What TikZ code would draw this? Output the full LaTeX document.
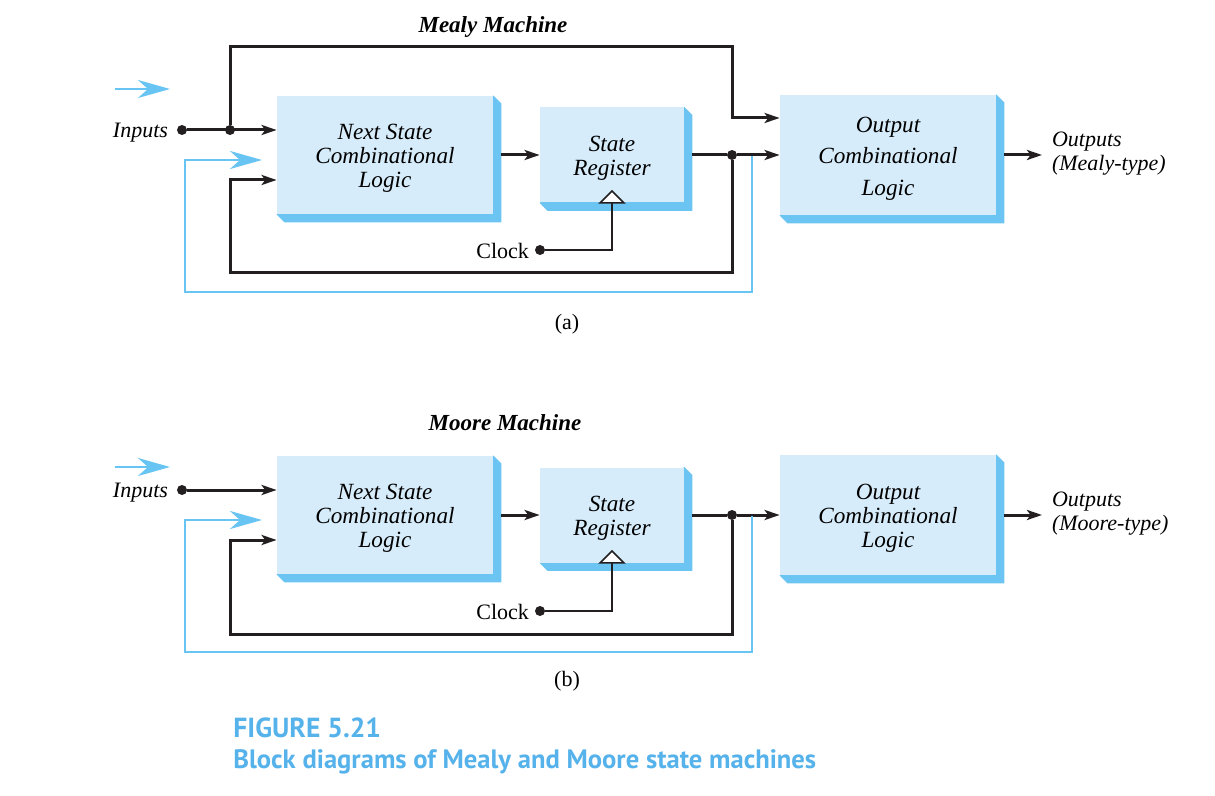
\documentclass[tikz,border=0pt]{standalone}
\usepackage{fontspec}
\setmainfont{Liberation Serif}
\setsansfont{PT Sans}
\usetikzlibrary{arrows.meta, backgrounds, positioning}
\definecolor{boxfill}{RGB}{214, 236, 250}
\definecolor{boxshade}{RGB}{108, 196, 242}
\definecolor{ink}{RGB}{35, 31, 32}
\definecolor{feedblue}{RGB}{104, 196, 242}
\definecolor{capblue}{RGB}{86, 178, 234}

\tikzset{
  block/.style={fill=boxfill, inner sep=0pt},
  btext/.style={align=center, yshift=-1.75pt,
                font=\itshape\fontsize{11.6}{12}\selectfont},
  link/.style={ink, line width=1.5pt, -{Stealth[length=7.5pt, width=5pt, inset=1.8pt]}},
  bluelink/.style={feedblue, line width=1.35pt, -{Stealth[length=16pt, width=9pt, inset=5pt]}},
  clockline/.style={ink, line width=0.8pt},
  dot/.style={circle, fill=ink, inner sep=0pt, minimum size=5pt},
  label/.style={font=\itshape\fontsize{11}{12}\selectfont},
  title/.style={font=\bfseries\itshape\fontsize{11.5}{12}\selectfont}
}

\begin{document}
\begin{tikzpicture}[x=0.5pt, y=-0.5pt]
  \useasboundingbox (0, 0) rectangle (1215, 796);

  % (a) Mealy machine
  \begin{scope}[shift={(0, 0)}]
    \node[title] (tta) at (493, 27) {Mealy Machine};
    \node[block, minimum width=108pt, minimum height=59pt] (nsa) at (385, 155) {};
    \node[block, minimum width=72pt, minimum height=47.5pt] (sra) at (612, 155) {};
    \node[block, minimum width=108pt, minimum height=60pt] (oca) at (888, 155) {};
    \node[btext] (nsat) at (nsa) {Next State\\Combinational\\Logic};
    \node[btext] (srat) at (sra) {State\\Register};
    \node[btext, font=\itshape\fontsize{11.6}{15.75}\selectfont] (ocat) at (oca) {Output\\Combinational\\Logic};

    \node[label, anchor=east] (ina) at (175, 133) {Inputs};
    \node[dot] (ida) at (182, 130) {};
    \node[dot] (ja) at (230, 130) {};
    \node[dot] (jca) at (732, 155) {};
    \coordinate (topa) at (732, 47);
    \coordinate (entera) at (732, 118);
    \coordinate (bota) at (230, 273);
    \coordinate (fba) at (230, 180);

    \draw[link] (ida) -- (ida -| nsa.west);
    \draw[link] (ja) |- (topa) -- (entera) -- (entera -| oca.west);
    \draw[link] ([xshift=4pt]nsa.east) -- (sra.west);
    \draw[link] ([xshift=4pt]sra.east) -- (jca) -- (oca.west);
    \draw[link] (jca) |- (bota) -- (fba) -- (fba -| nsa.west);

    % blue feedback
    \coordinate (tapa) at (752, 156);
    \coordinate (blua) at (185, 292);
    \coordinate (bfa) at (185, 160);
    \coordinate (bfea) at (262, 160);
    \draw[bluelink] (tapa) |- (blua) -- (bfa) -- (bfea);
    \coordinate (lga) at (115, 89);
    \coordinate (lgb) at (170, 89);
    \draw[bluelink] (lga) -- (lgb);

    % clock
    \node[anchor=east, font=\fontsize{11}{12}\selectfont] (clka) at (536, 251) {Clock};
    \node[dot] (cda) at (540, 250) {};
    \draw[clockline] (cda) -| (sra.south);
    \draw[clockline, fill=white] ([xshift=-6pt]sra.south) -- ([yshift=6pt]sra.south) -- ([xshift=6pt]sra.south) -- cycle;

    \coordinate (outa) at (1042, 155);
    \draw[link] ([xshift=4pt]oca.east) -- (outa);
    \node[label, anchor=west, align=left] (ota) at (1045, 154) {Outputs\\(Mealy-type)};

    \node[font=\fontsize{11}{12}\selectfont] (capa) at (567, 324) {(a)};
  \end{scope}

  % (b) Moore machine
  \begin{scope}[shift={(0, 360)}]
    \node[title] (ttb) at (505, 63) {Moore Machine};
    \node[block, minimum width=108pt, minimum height=59pt] (nsb) at (385, 155) {};
    \node[block, minimum width=72pt, minimum height=47.5pt] (srb) at (612, 155) {};
    \node[block, minimum width=108pt, minimum height=60pt] (ocb) at (888, 155) {};
    \node[btext] (nsbt) at (nsb) {Next State\\Combinational\\Logic};
    \node[btext] (srbt) at (srb) {State\\Register};
    \node[btext] (ocbt) at (ocb) {Output\\Combinational\\Logic};

    \node[label, anchor=east] (inb) at (175, 133) {Inputs};
    \node[dot] (idb) at (182, 130) {};
    \node[dot] (jcb) at (732, 155) {};
    \coordinate (botb) at (230, 274);
    \coordinate (fbb) at (230, 180);

    \draw[link] (idb) -- (idb -| nsb.west);
    \draw[link] ([xshift=4pt]nsb.east) -- (srb.west);
    \draw[link] ([xshift=4pt]srb.east) -- (jcb) -- (ocb.west);
    \draw[link] (jcb) |- (botb) -- (fbb) -- (fbb -| nsb.west);

    % blue feedback
    \coordinate (tapb) at (752, 156);
    \coordinate (blub) at (185, 292);
    \coordinate (bfb) at (185, 160);
    \coordinate (bfeb) at (262, 160);
    \draw[bluelink] (tapb) |- (blub) -- (bfb) -- (bfeb);
    \coordinate (lgc) at (115, 107);
    \coordinate (lgd) at (170, 107);
    \draw[bluelink] (lgc) -- (lgd);

    % clock
    \node[anchor=east, font=\fontsize{11}{12}\selectfont] (clkb) at (536, 252) {Clock};
    \node[dot] (cdb) at (540, 251) {};
    \draw[clockline] (cdb) -| (srb.south);
    \draw[clockline, fill=white] ([xshift=-6pt]srb.south) -- ([yshift=6pt]srb.south) -- ([xshift=6pt]srb.south) -- cycle;

    \coordinate (outb) at (1042, 155);
    \draw[link] ([xshift=4pt]ocb.east) -- (outb);
    \node[label, anchor=west, align=left] (otb) at (1045, 154) {Outputs\\(Moore-type)};

    \node[font=\fontsize{11}{12}\selectfont] (capb) at (567, 321) {(b)};
  \end{scope}

  % block shadows
  \begin{scope}[on background layer]
    \foreach \b in {nsa, sra, oca, nsb, srb, ocb}
      \fill[boxshade] (\b.north east) -- ++(4pt, -4pt) |- ([shift={(4pt, -4pt)}]\b.south west) -- (\b.south west) -- cycle;
  \end{scope}

  % caption
  \node[anchor=west, inner sep=0pt, capblue, font=\sffamily\bfseries\fontsize{13.8}{14}\selectfont] (fig) at (233, 728) {FIGURE 5.21};
  \node[anchor=west, inner sep=0pt, capblue, font=\sffamily\bfseries\fontsize{13.3}{14}\selectfont] (figtext) at (233, 762) {Block diagrams of Mealy and Moore state machines};
\end{tikzpicture}
\end{document}
